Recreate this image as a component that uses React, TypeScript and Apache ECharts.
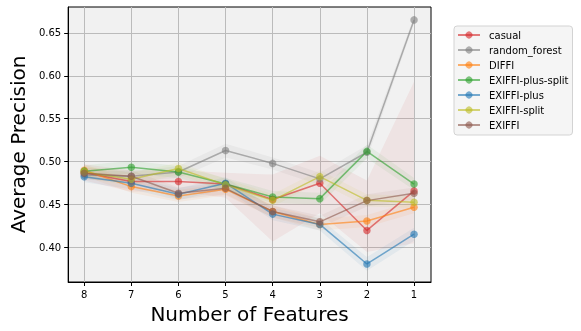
import React, { useEffect, useRef } from "react";
import * as echarts from "echarts";

const featureCounts = [8, 7, 6, 5, 4, 3, 2, 1];
const yTickValues = [0.4, 0.45, 0.5, 0.55, 0.6, 0.65];

const casual = [0.487, 0.477, 0.477, 0.474, 0.456, 0.475, 0.42, 0.466];
const casualLow = [0.478, 0.465, 0.466, 0.458, 0.407, 0.44, 0.395, 0.405];
const casualHigh = [0.497, 0.49, 0.49, 0.487, 0.485, 0.507, 0.478, 0.593];

const randomForest = [0.4845, 0.483, 0.488, 0.513, 0.498, 0.48, 0.511, 0.665];
const randomForestLow = [0.479, 0.477, 0.481, 0.505, 0.491, 0.473, 0.503, 0.661];
const randomForestHigh = [0.49, 0.489, 0.495, 0.521, 0.505, 0.487, 0.519, 0.669];

const diffi = [0.49, 0.471, 0.46, 0.468, 0.442, 0.427, 0.431, 0.447];
const diffiLow = [0.483, 0.464, 0.453, 0.461, 0.435, 0.42, 0.424, 0.44];
const diffiHigh = [0.497, 0.478, 0.467, 0.475, 0.449, 0.434, 0.438, 0.454];

const exiffiPlusSplit = [0.489, 0.4935, 0.488, 0.474, 0.459, 0.457, 0.512, 0.474];
const exiffiPlusSplitLow = [0.482, 0.486, 0.481, 0.467, 0.452, 0.45, 0.504, 0.467];
const exiffiPlusSplitHigh = [0.496, 0.501, 0.495, 0.481, 0.466, 0.464, 0.52, 0.481];

const exiffiPlus = [0.4826, 0.475, 0.462, 0.475, 0.439, 0.427, 0.381, 0.4156];
const exiffiPlusLow = [0.476, 0.468, 0.455, 0.468, 0.432, 0.42, 0.373, 0.408];
const exiffiPlusHigh = [0.489, 0.482, 0.469, 0.482, 0.446, 0.434, 0.389, 0.423];

const exiffiSplit = [0.488, 0.4795, 0.492, 0.473, 0.455, 0.4826, 0.455, 0.4528];
const exiffiSplitLow = [0.481, 0.472, 0.485, 0.466, 0.448, 0.476, 0.448, 0.446];
const exiffiSplitHigh = [0.495, 0.487, 0.499, 0.48, 0.462, 0.49, 0.462, 0.46];

const exiffi = [0.4865, 0.483, 0.4633, 0.469, 0.442, 0.43, 0.4547, 0.4633];
const exiffiLow = [0.48, 0.476, 0.456, 0.462, 0.435, 0.423, 0.448, 0.456];
const exiffiHigh = [0.493, 0.49, 0.47, 0.476, 0.449, 0.437, 0.462, 0.47];

const seriesDefs = [
  { name: "casual", color: "#d62728", values: casual, low: casualLow, high: casualHigh },
  { name: "random_forest", color: "#7f7f7f", values: randomForest, low: randomForestLow, high: randomForestHigh },
  { name: "DIFFI", color: "#ff7f0e", values: diffi, low: diffiLow, high: diffiHigh },
  { name: "EXIFFI-plus-split", color: "#2ca02c", values: exiffiPlusSplit, low: exiffiPlusSplitLow, high: exiffiPlusSplitHigh },
  { name: "EXIFFI-plus", color: "#1f77b4", values: exiffiPlus, low: exiffiPlusLow, high: exiffiPlusHigh },
  { name: "EXIFFI-split", color: "#bcbd22", values: exiffiSplit, low: exiffiSplitLow, high: exiffiSplitHigh },
  { name: "EXIFFI", color: "#8c564b", values: exiffi, low: exiffiLow, high: exiffiHigh },
];

const FONT = "DejaVu Sans";

export default function App() {
  const ref = useRef<HTMLDivElement>(null);
  useEffect(() => {
    if (!ref.current) return;
    const chart = echarts.init(ref.current, null, { renderer: "svg" });
    const bandSeries = seriesDefs.map((s) => ({
      type: "custom",
      name: s.name + "_band",
      silent: true,
      z: 1,
      clip: true,
      data: [[featureCounts[0], s.values[0]]],
      renderItem: (_params: any, api: any) => {
        const upper = featureCounts.map((x, i) => api.coord([x, s.high[i]]));
        const lower = featureCounts.map((x, i) => api.coord([x, s.low[i]])).reverse();
        return {
          type: "polygon",
          shape: { points: upper.concat(lower) },
          style: { fill: s.color, opacity: 0.065 },
        };
      },
    }));
    const lineSeries = seriesDefs.map((s) => ({
      type: "line",
      name: s.name,
      z: 3,
      data: featureCounts.map((x, i) => [x, s.values[i]]),
      symbol: "circle",
      symbolSize: 7.5,
      itemStyle: { color: s.color, opacity: 0.6 },
      lineStyle: { color: s.color, width: 1.5, opacity: 0.6 },
      emphasis: { disabled: true },
    }));
    chart.setOption({
      animation: false,
      textStyle: { fontFamily: FONT },
      grid: {
        left: 62,
        top: 7,
        width: 369,
        height: 275,
        show: true,
        backgroundColor: "#f1f1f1",
        borderColor: "#000",
        borderWidth: 1,
      },
      legend: {
        data: seriesDefs.map((s) => s.name),
        orient: "vertical",
        left: 454,
        top: 26,
        padding: [4, 4, 5, 3],
        itemWidth: 22,
        itemHeight: 9,
        itemGap: 5,
        backgroundColor: "#f5f5f5",
        borderColor: "#d3d3d3",
        borderWidth: 1,
        borderRadius: 3,
        textStyle: { fontFamily: FONT, fontSize: 10, color: "#000", padding: [0, 0, 0, 4] },
      },
      xAxis: {
        type: "value",
        min: 0.64,
        max: 8.34,
        inverse: true,
        name: "Number of Features",
        nameLocation: "middle",
        nameGap: 19,
        nameTextStyle: { fontFamily: FONT, fontSize: 20, color: "#000" },
        axisLine: { show: true, lineStyle: { color: "#000", width: 1 } },
        axisTick: { show: true, length: 4, lineStyle: { color: "#000" }, customValues: featureCounts },
        axisLabel: { fontFamily: FONT, fontSize: 10, color: "#000", margin: 7, customValues: featureCounts },
        splitLine: { show: true, lineStyle: { color: "#bbbbbb", width: 1 } },
      },
      yAxis: {
        type: "value",
        min: 0.36,
        max: 0.68,
        name: "Average Precision",
        nameLocation: "middle",
        nameGap: 36,
        nameTextStyle: { fontFamily: FONT, fontSize: 20, color: "#000" },
        axisLine: { show: true, lineStyle: { color: "#000", width: 1 } },
        axisTick: { show: true, length: 4, lineStyle: { color: "#000" }, customValues: yTickValues },
        axisLabel: {
          fontFamily: FONT,
          fontSize: 10,
          color: "#000",
          margin: 7,
          customValues: yTickValues,
          formatter: (v: number) => v.toFixed(2),
        },
        splitLine: { show: true, lineStyle: { color: "#bbbbbb", width: 1 } },
      },
      series: [...bandSeries, ...lineSeries],
    });
    return () => chart.dispose();
  }, []);
  return <div ref={ref} style={{ position: "fixed", left: 0, top: 0, width: 581, height: 331 }} />;
}
